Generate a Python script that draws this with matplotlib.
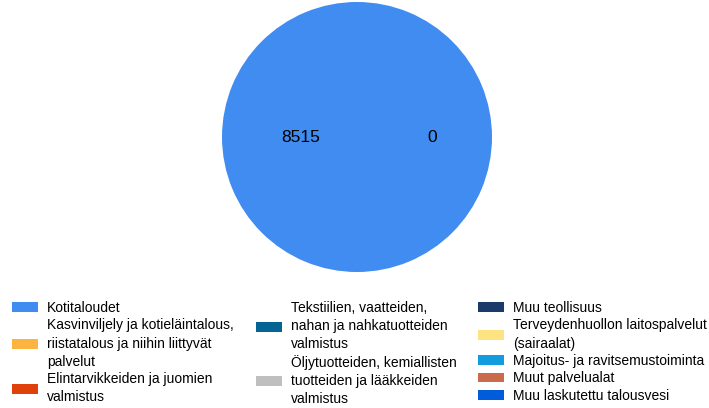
import matplotlib.pyplot as plt

plt.rcParams['font.family'] = ['Liberation Sans', 'DejaVu Sans']

categories = [
    "Kotitaloudet",
    "Kasvinviljely ja kotieläintalous,\nriistatalous ja niihin liittyvät\npalvelut",
    "Elintarvikkeiden ja juomien\nvalmistus",
    "Tekstiilien, vaatteiden,\nnahan ja nahkatuotteiden\nvalmistus",
    "Öljytuotteiden, kemiallisten\ntuotteiden ja lääkkeiden\nvalmistus",
    "Muu teollisuus",
    "Terveydenhuollon laitospalvelut\n(sairaalat)",
    "Majoitus- ja ravitsemustoiminta",
    "Muut palvelualat",
    "Muu laskutettu talousvesi",
]
values = [8515, 0, 0, 0, 0, 0, 0, 0, 0, 0]
colors = ["#418CF0", "#FCB441", "#E0400A", "#056492", "#BFBFBF",
          "#1A3B69", "#FFE382", "#129CDD", "#CA6B4B", "#005CDB"]

W, H = 709, 408
fig = plt.figure(figsize=(W / 100, H / 100), dpi=100)

# pie area: center ~ (357,137) px, radius ~135 px
cx, cy, r = 357, 137, 135
ax = fig.add_axes([(cx - r) / W, (H - cy - r) / H, 2 * r / W, 2 * r / H])
wedges, _ = ax.pie(values, colors=colors, startangle=0, counterclock=True,
                   wedgeprops=dict(linewidth=0))
ax.set_xlim(-1, 1)
ax.set_ylim(-1, 1)
ax.axis('off')

# value labels
ax.text(-0.42, 0, str(values[0]), ha='center', va='center', fontsize=12.5)
ax.text(0.56, 0, str(sum(values[1:])), ha='center', va='center', fontsize=12.5)

# three legend columns
groups = [(0, 3, 12), (3, 5, 256), (5, 10, 478)]
for start, end, x0 in groups:
    leg = fig.legend(wedges[start:end], categories[start:end],
                     loc='upper left', bbox_to_anchor=(x0 / W, 1 - 301 / H),
                     frameon=False, fontsize=10.0, borderpad=0, borderaxespad=0,
                     handlelength=1.9, handleheight=0.7, handletextpad=0.6,
                     labelspacing=0.25)
    for t in leg.get_texts():
        t.set_linespacing(1.37)

fig.savefig("out.png", dpi=100)
